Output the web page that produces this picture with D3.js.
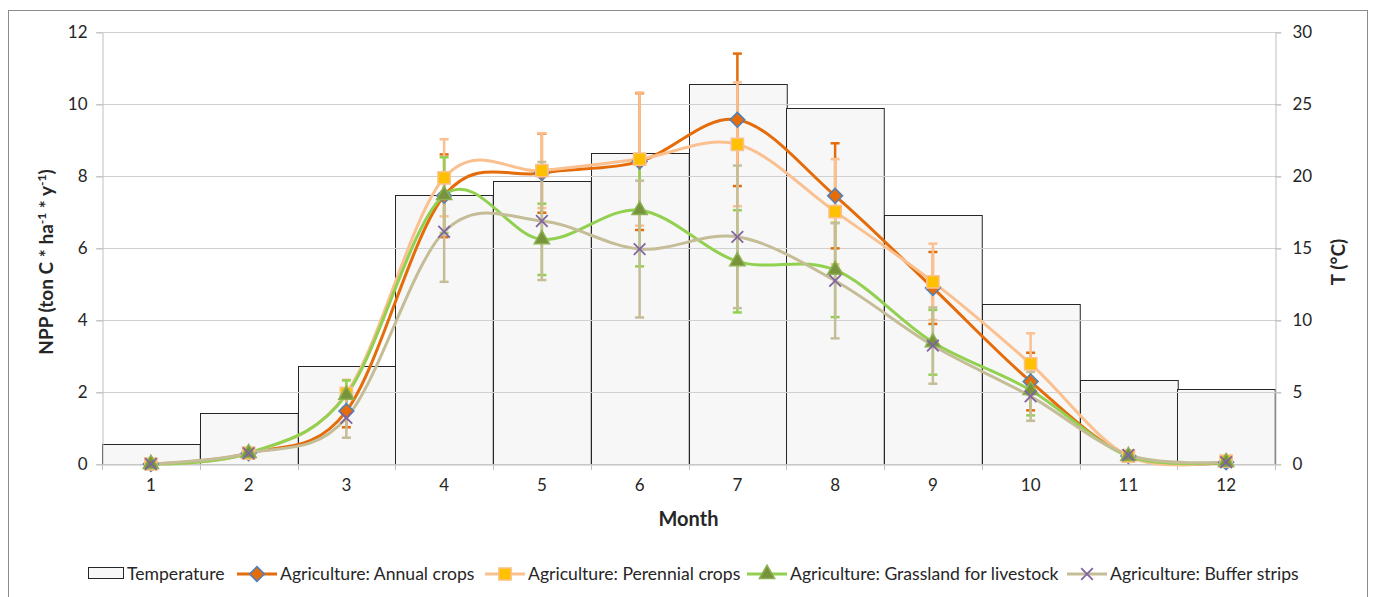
<!DOCTYPE html>
<html>
<head>
<meta charset="utf-8">
<script src="https://cdn.jsdelivr.net/npm/d3@7"></script>
<style>
  html, body { margin: 0; padding: 0; background: #ffffff; }
  svg { display: block; font-family: Lato, "Open Sans", sans-serif; }
</style>
</head>
<body>
<svg id="chart" width="1373" height="597"></svg>
<script>
// Monthly values
const months = [1, 2, 3, 4, 5, 6, 7, 8, 9, 10, 11, 12];
const temperature = [1.37, 3.52, 6.8, 18.66, 19.68, 21.57, 26.39, 24.75, 17.29, 11.09, 5.83, 5.19];

const annualCrops    = [0, 0.3, 1.47, 7.45, 8.08, 8.4, 9.56, 7.45, 4.89, 2.29, 0.22, 0.05];
const annualErr      = [0.04, 0.08, 0.45, 1.15, 1.1, 1.9, 1.84, 1.46, 1.0, 0.8, 0.08, 0.05];
const perennialCrops = [0, 0.3, 1.96, 7.95, 8.15, 8.47, 8.88, 7.01, 5.06, 2.78, 0.22, 0.08];
const perennialErr   = [0.04, 0.08, 0.38, 1.07, 1.04, 1.85, 1.72, 1.46, 1.06, 0.85, 0.08, 0.05];
const grassland      = [0, 0.3, 1.92, 7.47, 6.24, 7.05, 5.63, 5.39, 3.38, 2.05, 0.22, 0.05];
const grasslandErr   = [0.04, 0.08, 0.4, 1.05, 0.99, 1.56, 1.42, 1.31, 0.9, 0.7, 0.08, 0.05];
const bufferStrips   = [0, 0.3, 1.28, 6.45, 6.75, 5.97, 6.31, 5.09, 3.29, 1.88, 0.25, 0.05];
const bufferErr      = [0.04, 0.08, 0.55, 1.39, 1.64, 1.9, 1.98, 1.6, 1.06, 0.68, 0.08, 0.05];

const nppTicks = [0, 2, 4, 6, 8, 10, 12];
const tempTicks = [0, 5, 10, 15, 20, 25, 30];

const series = [
  { name: "Agriculture: Annual crops", values: annualCrops, err: annualErr,
    line: "#e46c0a", marker: "diamond", fill: "#e46c0a", stroke: "#4f81bd" },
  { name: "Agriculture: Perennial crops", values: perennialCrops, err: perennialErr,
    line: "#fac090", marker: "square", fill: "#ffc000", stroke: "#fac090" },
  { name: "Agriculture: Grassland for livestock", values: grassland, err: grasslandErr,
    line: "#92d050", marker: "triangle", fill: "#77933c", stroke: "#8db150" },
  { name: "Agriculture: Buffer strips", values: bufferStrips, err: bufferErr,
    line: "#c4bd97", marker: "x", fill: "none", stroke: "#8064a2" }
];

// Layout
const plot = { left: 102, right: 1275, top: 32, bottom: 464 };
const textColor = "#262626";
const gridColor = "#d0d0d0";
const axisColor = "#bfbfbf";

const svg = d3.select("#chart");

// Outer chart frame
svg.append("rect")
  .attr("x", 8.5).attr("y", 10.5)
  .attr("width", 1359).attr("height", 600)
  .attr("fill", "#ffffff").attr("stroke", "#8c8c8c").attr("stroke-width", 1);

const x = d3.scaleBand().domain(months).range([plot.left, plot.right]).padding(0);
const y = d3.scaleLinear().domain([0, 12]).range([plot.bottom, plot.top]);
const yT = d3.scaleLinear().domain([0, 30]).range([plot.bottom, plot.top]);

// Temperature bars (secondary axis)
svg.append("g").selectAll("rect")
  .data(months)
  .join("rect")
  .attr("x", (m) => Math.round(x(m)) + 0.5)
  .attr("y", (m, i) => Math.round(yT(temperature[i])) + 0.5)
  .attr("width", x.bandwidth())
  .attr("height", (m, i) => plot.bottom - Math.round(yT(temperature[i])))
  .attr("fill", "#f7f7f7")
  .attr("stroke", "#262626")
  .attr("stroke-width", 1);

// Horizontal gridlines
svg.append("g").selectAll("line")
  .data(nppTicks)
  .join("line")
  .attr("x1", plot.left - 6).attr("x2", plot.right + 6)
  .attr("y1", (d) => Math.round(y(d)) + 0.5)
  .attr("y2", (d) => Math.round(y(d)) + 0.5)
  .attr("stroke", gridColor).attr("stroke-width", 1);

// Left axis
const leftAxis = svg.append("g")
  .attr("transform", `translate(${plot.left + 0.5},0.5)`)
  .call(d3.axisLeft(y).tickValues(nppTicks).tickSize(6).tickSizeOuter(0).tickPadding(9));
// Right axis
const rightAxis = svg.append("g")
  .attr("transform", `translate(${plot.right + 0.5},0.5)`)
  .call(d3.axisRight(yT).tickValues(tempTicks).tickSize(6).tickSizeOuter(0).tickPadding(11));
// Bottom axis (labels at month centres)
const bottomAxis = svg.append("g")
  .attr("transform", `translate(0,${plot.bottom + 0.5})`)
  .call(d3.axisBottom(x).tickSize(0).tickSizeOuter(0).tickPadding(14));

[leftAxis, rightAxis, bottomAxis].forEach((g) => {
  g.select(".domain").attr("stroke", axisColor);
  g.selectAll(".tick line").attr("stroke", axisColor);
  g.selectAll(".tick text")
    .attr("fill", textColor)
    .style("font-size", "17px")
    .style("font-family", "Lato, sans-serif");
});

// Category boundary ticks on the x axis
const boundaries = months.map((m) => x(m)).concat([x(months[months.length - 1]) + x.bandwidth()]);
svg.append("g").selectAll("line")
  .data(boundaries)
  .join("line")
  .attr("x1", (d) => Math.round(d) + 0.5).attr("x2", (d) => Math.round(d) + 0.5)
  .attr("y1", plot.bottom).attr("y2", plot.bottom + 6)
  .attr("stroke", axisColor);

// Error bars
const capHalf = 4.5;
const errLayer = svg.append("g");
series.forEach((s) => {
  const g = errLayer.append("g")
    .attr("stroke", s.line).attr("stroke-width", 2.5).attr("fill", "none");
  months.forEach((m, i) => {
    const cx = x(m) + x.bandwidth() / 2;
    const hi = y(s.values[i] + s.err[i]);
    const lo = y(s.values[i] - s.err[i]);
    g.append("line").attr("x1", cx).attr("x2", cx).attr("y1", hi).attr("y2", lo);
    g.append("line").attr("x1", cx - capHalf).attr("x2", cx + capHalf).attr("y1", hi).attr("y2", hi);
    g.append("line").attr("x1", cx - capHalf).attr("x2", cx + capHalf).attr("y1", lo).attr("y2", lo);
  });
});

// Smoothed series lines
const line = d3.line()
  .x((d, i) => x(months[i]) + x.bandwidth() / 2)
  .y((d) => y(d))
  .curve(d3.curveCardinal.tension(0));
svg.append("g").selectAll("path")
  .data(series)
  .join("path")
  .attr("d", (s) => line(s.values))
  .attr("fill", "none")
  .attr("stroke", (s) => s.line)
  .attr("stroke-width", 3)
  .attr("stroke-linejoin", "round");

// Markers
function markerPath(kind) {
  if (kind === "diamond") return d3.symbol(d3.symbolSquare, 110)();
  if (kind === "square") return d3.symbol(d3.symbolSquare, 150)();
  if (kind === "triangle") return d3.symbol(d3.symbolTriangle, 100)();
  return d3.symbol(d3.symbolX, 90)();
}
function drawMarker(g, s, cx, cy) {
  return g.append("path")
    .attr("d", markerPath(s.marker))
    .attr("transform", `translate(${cx},${cy})` + (s.marker === "diamond" ? " rotate(45)" : ""))
    .attr("fill", s.fill)
    .attr("stroke", s.stroke)
    .attr("stroke-width", s.marker === "x" ? 1.8 : 1.5);
}
const markerLayer = svg.append("g");
series.forEach((s) => {
  const g = markerLayer.append("g");
  months.forEach((m, i) => {
    drawMarker(g, s, x(m) + x.bandwidth() / 2, y(s.values[i]));
  });
});

// Axis titles
const leftTitle = svg.append("text")
  .attr("transform", `translate(53,${(plot.top + plot.bottom) / 2 + 14}) rotate(-90)`)
  .attr("text-anchor", "middle")
  .attr("fill", textColor)
  .style("font-size", "19px").style("font-weight", "bold");
leftTitle.append("tspan").text("NPP (ton C * ha");
leftTitle.append("tspan").attr("dy", -7).style("font-size", "12px").text("-1");
leftTitle.append("tspan").attr("dy", 7).text(" * y");
leftTitle.append("tspan").attr("dy", -7).style("font-size", "12px").text("-1");
leftTitle.append("tspan").attr("dy", 7).text(")");

svg.append("text")
  .attr("transform", `translate(1345,${(plot.top + plot.bottom) / 2 + 14}) rotate(-90)`)
  .attr("text-anchor", "middle")
  .attr("fill", textColor)
  .style("font-size", "19px").style("font-weight", "bold")
  .text("T (°C)");

svg.append("text")
  .attr("x", (plot.left + plot.right) / 2)
  .attr("y", 526)
  .attr("text-anchor", "middle")
  .attr("fill", textColor)
  .style("font-size", "20px").style("font-weight", "bold")
  .text("Month");

// Legend
const legendY = 574;
const legendFont = "17.6px";
const legend = svg.append("g");
legend.append("rect")
  .attr("x", 88.5).attr("y", legendY - 6.5).attr("width", 35).attr("height", 11)
  .attr("fill", "#f7f7f7").attr("stroke", "#262626");
legend.append("text")
  .attr("x", 127).attr("y", legendY).attr("dy", "0.35em")
  .attr("fill", textColor).style("font-size", legendFont)
  .text("Temperature");

const sampleStarts = [237, 485, 747, 1067];
series.forEach((s, i) => {
  const x0 = sampleStarts[i];
  legend.append("line")
    .attr("x1", x0).attr("x2", x0 + 40)
    .attr("y1", legendY).attr("y2", legendY)
    .attr("stroke", s.line).attr("stroke-width", 3);
  drawMarker(legend, s, x0 + 20, legendY);
  legend.append("text")
    .attr("x", x0 + 43).attr("y", legendY).attr("dy", "0.35em")
    .attr("fill", textColor).style("font-size", legendFont)
    .text(s.name);
});
</script>
</body>
</html>
